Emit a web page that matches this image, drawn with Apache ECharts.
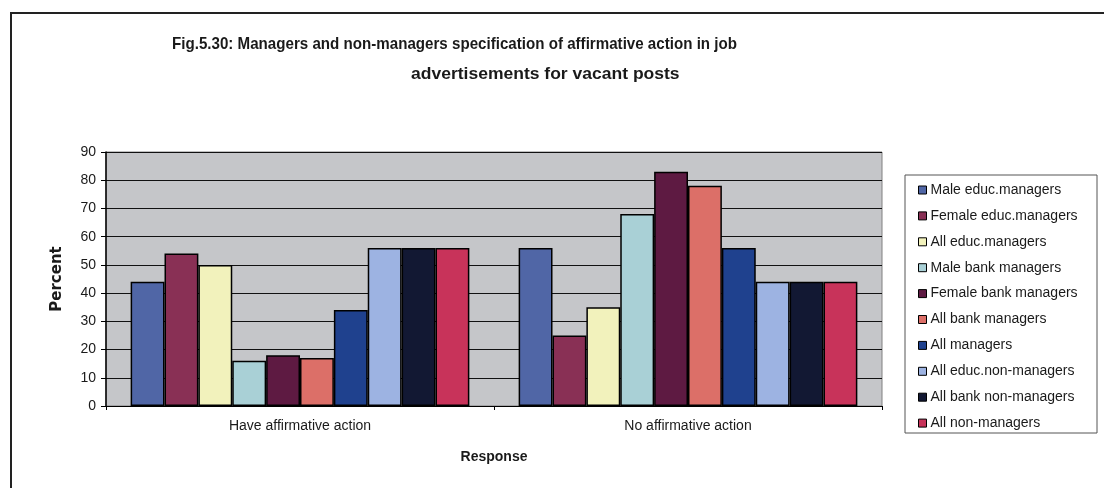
<!DOCTYPE html>
<html>
<head>
<meta charset="utf-8">
<script src="https://cdn.jsdelivr.net/npm/echarts@6/dist/echarts.min.js"></script>
<style>
  html, body { margin: 0; padding: 0; background: #ffffff; }
  #chart { width: 1104px; height: 488px; }
</style>
</head>
<body>
<div id="chart"></div>
<script>
// Response categories on the x axis
const categories = ['Have affirmative action', 'No affirmative action'];

// Respondent groups (one bar series each)
const seriesNames = [
  'Male educ.managers',
  'Female educ.managers',
  'All educ.managers',
  'Male bank managers',
  'Female bank managers',
  'All bank managers',
  'All managers',
  'All educ.non-managers',
  'All bank non-managers',
  'All non-managers'
];

// Percent for [Have affirmative action, No affirmative action]
const maleEducManagers      = [44, 56];
const femaleEducManagers    = [54, 25];
const allEducManagers       = [50, 35];
const maleBankManagers      = [16, 68];
const femaleBankManagers    = [18, 83];
const allBankManagers       = [17, 78];
const allManagers           = [34, 56];
const allEducNonManagers    = [56, 44];
const allBankNonManagers    = [56, 44];
const allNonManagers        = [56, 44];

const seriesValues = [
  maleEducManagers, femaleEducManagers, allEducManagers,
  maleBankManagers, femaleBankManagers, allBankManagers,
  allManagers, allEducNonManagers, allBankNonManagers, allNonManagers
];

// Y axis ticks
const yTicks = [0, 10, 20, 30, 40, 50, 60, 70, 80, 90];

const colors = [
  '#5066a6', '#893055', '#f2f2bc', '#a9d0d6', '#5e1a42',
  '#dc6f68', '#1f418e', '#9db3e2', '#121833', '#c8335a'
];

const titleFont = 'bold 17px "Liberation Sans Narrow", "Liberation Sans", Arial, sans-serif';

const chart = echarts.init(document.getElementById('chart'), null, { renderer: 'canvas' });

const option = {
  animation: false,
  backgroundColor: '#ffffff',
  color: colors,
  textStyle: { fontFamily: 'Liberation Sans, Arial, sans-serif' },
  graphic: [
    {
      type: 'rect',
      shape: { x: 11, y: 13, width: 1110, height: 500 },
      style: { fill: 'none', stroke: '#222', lineWidth: 2 },
      silent: true
    },
    {
      type: 'text',
      x: 172, y: 36,
      scaleX: 0.89,
      style: {
        text: 'Fig.5.30: Managers and non-managers specification of affirmative action in job',
        font: titleFont,
        fill: '#1a1a1a'
      }
    },
    {
      type: 'text',
      x: 411, y: 66,
      scaleX: 1.03,
      style: {
        text: 'advertisements for vacant posts',
        font: titleFont,
        fill: '#1a1a1a'
      }
    },
    {
      type: 'rect',
      shape: { x: 905, y: 175, width: 192, height: 258 },
      style: { fill: '#ffffff', stroke: '#555', lineWidth: 1 },
      z: 0,
      silent: true
    }
  ],
  legend: {
    orient: 'vertical',
    left: 913,
    top: 178,
    itemWidth: 8,
    itemHeight: 8,
    itemGap: 11.9,
    icon: 'rect',
    itemStyle: { borderColor: '#000', borderWidth: 1 },
    textStyle: { fontSize: 14, color: '#1a1a1a', padding: [0, 0, 0, -1] },
    data: seriesNames
  },
  grid: {
    left: 106, right: 222, top: 152, bottom: 82,
    show: true,
    backgroundColor: '#c5c6c9',
    borderColor: '#808080',
    borderWidth: 1
  },
  xAxis: {
    type: 'category',
    data: categories,
    name: 'Response',
    nameLocation: 'middle',
    nameGap: 44,
    nameTextStyle: { fontWeight: 'bold', fontSize: 14, color: '#1a1a1a' },
    axisLine: { lineStyle: { color: '#000', width: 1 } },
    axisTick: { show: true, length: 4, lineStyle: { color: '#000' } },
    axisLabel: { fontSize: 14, color: '#1a1a1a', margin: 13 }
  },
  yAxis: {
    type: 'value',
    min: yTicks[0],
    max: yTicks[yTicks.length - 1],
    interval: yTicks[1] - yTicks[0],
    name: 'Percent',
    nameLocation: 'middle',
    nameGap: 41,
    nameRotate: 90,
    nameTextStyle: {
      fontWeight: 'bold', fontSize: 15, color: '#1a1a1a',
      fontFamily: '"DejaVu Sans", Verdana, sans-serif'
    },
    axisLine: { show: true, lineStyle: { color: '#000', width: 1.5 } },
    axisTick: { show: true, length: 5, lineStyle: { color: '#000' } },
    axisLabel: { fontSize: 14, color: '#1a1a1a', margin: 10 },
    splitLine: { show: true, lineStyle: { color: '#111', width: 1 } }
  },
  series: seriesNames.map((name, i) => ({
    name: name,
    type: 'bar',
    data: seriesValues[i],
    barGap: '0%',
    barCategoryGap: '12.7%',
    itemStyle: { borderColor: '#000', borderWidth: 1.5 }
  }))
};

chart.setOption(option);
</script>
</body>
</html>
